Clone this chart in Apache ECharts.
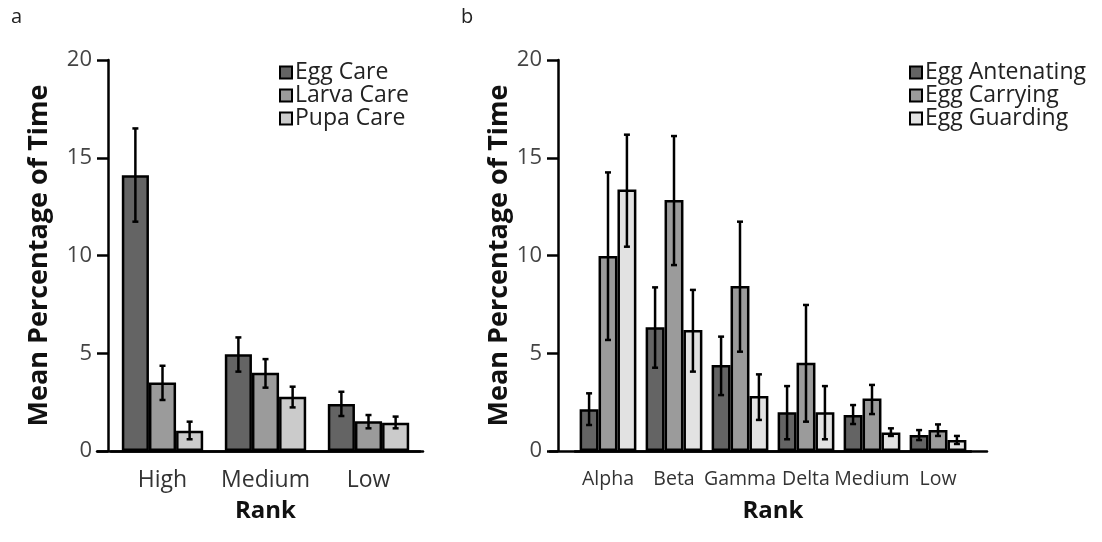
<!DOCTYPE html>
<html lang="en">
<head>
<meta charset="UTF-8">
<title>Brood care by rank</title>
<script src="https://cdn.jsdelivr.net/npm/echarts@6/dist/echarts.min.js"></script>
<style>
  html, body { margin: 0; padding: 0; background: #fff; }
  #chart { width: 1102px; height: 542px; }
</style>
</head>
<body>
<div id="chart"></div>
<script>
// panel a
var rankA = ['High', 'Medium', 'Low'];
var namesA = ['Egg Care', 'Larva Care', 'Pupa Care'];
var eggCare = [14.1, 4.95, 2.4];
var eggCareLo = [11.73, 4.06, 1.79];
var eggCareHi = [16.5, 5.81, 3.03];
var larvaCare = [3.5, 4.0, 1.52];
var larvaCareLo = [2.61, 3.24, 1.16];
var larvaCareHi = [4.36, 4.7, 1.84];
var pupaCare = [1.04, 2.78, 1.45];
var pupaCareLo = [0.6, 2.23, 1.16];
var pupaCareHi = [1.5, 3.29, 1.76];

// panel b
var rankB = ['Alpha', 'Beta', 'Gamma', 'Delta', 'Medium', 'Low'];
var namesB = ['Egg Antenating', 'Egg Carrying', 'Egg Guarding'];
var eggAntenating = [2.13, 6.33, 4.4, 1.98, 1.84, 0.82];
var eggAntenatingLo = [1.33, 4.26, 2.86, 0.6, 1.38, 0.56];
var eggAntenatingHi = [2.95, 8.37, 5.85, 3.32, 2.35, 1.07];
var eggCarrying = [9.97, 12.84, 8.44, 4.52, 2.69, 1.07];
var eggCarryingLo = [5.68, 9.51, 5.08, 1.5, 1.89, 0.77];
var eggCarryingHi = [14.25, 16.11, 11.73, 7.47, 3.38, 1.36];
var eggGuarding = [13.38, 6.19, 2.81, 1.98, 0.95, 0.56];
var eggGuardingLo = [10.45, 4.06, 1.59, 0.6, 0.77, 0.36];
var eggGuardingHi = [16.18, 8.24, 3.92, 3.32, 1.16, 0.77];

var yTicks = [0, 5, 10, 15, 20];

var FONT = 'Open Sans';
var colorsA = ['#646464', '#9b9b9b', '#cbcbcb'];
var colorsB = ['#646464', '#9b9b9b', '#e2e2e2'];

function errRender(gap, n, k) {
    return function (params, api) {
        var band = api.size([1, 0])[0];
        var bw = band * (1 - gap) / n;
        var dx = (k - (n - 1) / 2) * bw;
        var lo = api.coord([api.value(0), api.value(1)]);
        var hi = api.coord([api.value(0), api.value(2)]);
        var x = lo[0] + dx;
        var cap = 3;
        var st = { stroke: '#000', lineWidth: 2.5 };
        return {
            type: 'group',
            children: [
                { type: 'line', shape: { x1: x, y1: lo[1], x2: x, y2: hi[1] }, style: st },
                { type: 'line', shape: { x1: x - cap, y1: lo[1], x2: x + cap, y2: lo[1] }, style: st },
                { type: 'line', shape: { x1: x - cap, y1: hi[1], x2: x + cap, y2: hi[1] }, style: st }
            ]
        };
    };
}

function errData(lo, hi) {
    return lo.map(function (v, i) { return [i, v, hi[i]]; });
}

function barSeries(name, data, color, idx, gap) {
    return {
        name: name,
        type: 'bar',
        xAxisIndex: idx,
        yAxisIndex: idx,
        data: data,
        barGap: '0%',
        barCategoryGap: gap,
        itemStyle: { color: color, borderColor: '#000', borderWidth: 2.5 },
        silent: true
    };
}

function errSeries(lo, hi, idx, gap, k) {
    return {
        type: 'custom',
        xAxisIndex: idx,
        yAxisIndex: idx,
        renderItem: errRender(gap, 3, k),
        data: errData(lo, hi),
        encode: { x: 0, y: [1, 2] },
        z: 5,
        silent: true
    };
}

function xAxis(cats, idx, labelSize) {
    return {
        type: 'category',
        gridIndex: idx,
        data: cats,
        name: 'Rank',
        nameLocation: 'middle',
        nameGap: 48,
        nameTextStyle: { fontFamily: FONT, fontWeight: 'bold', fontSize: 24, color: '#111' },
        axisLine: { lineStyle: { color: '#000', width: 2.5 } },
        axisTick: { alignWithLabel: true, length: 11, lineStyle: { color: '#000', width: 2.5 } },
        axisLabel: { interval: 0, fontFamily: FONT, fontSize: labelSize, color: '#333', margin: 18 }
    };
}

// plain baseline that runs a bit past the bar area, as in the figure
function baseAxis(idx) {
    return {
        type: 'value',
        gridIndex: idx,
        axisLine: { show: true, onZero: false, lineStyle: { color: '#000', width: 2.5 } },
        axisTick: { show: false },
        axisLabel: { show: false },
        splitLine: { show: false }
    };
}

function yAxis(idx, offset, gap) {
    return {
        type: 'value',
        gridIndex: idx,
        min: yTicks[0],
        max: yTicks[yTicks.length - 1],
        interval: 5,
        offset: offset,
        name: 'Mean Percentage of Time',
        nameLocation: 'middle',
        nameGap: gap,
        nameTextStyle: { fontFamily: FONT, fontWeight: 'bold', fontSize: 27, color: '#111' },
        axisLine: { show: true, lineStyle: { color: '#000', width: 2.5 } },
        axisTick: { show: true, length: 11, lineStyle: { color: '#000', width: 2.5 } },
        axisLabel: { fontFamily: FONT, fontSize: 22, color: '#444', margin: 16 },
        splitLine: { show: false }
    };
}

function hiddenY(idx) {
    return { type: 'value', gridIndex: idx, show: false };
}

function legend(names, left) {
    return {
        data: names,
        left: left,
        top: 56,
        orient: 'vertical',
        itemWidth: 12,
        itemHeight: 12,
        itemGap: 0,
        icon: 'rect',
        selectedMode: false,
        textStyle: { fontFamily: FONT, fontSize: 23, lineHeight: 21, color: '#222', padding: [0, 0, 0, -2] }
    };
}

var chart = echarts.init(document.getElementById('chart'));
var gapA = 0.21, gapB = 0.14;

chart.setOption({
    animation: false,
    backgroundColor: '#fff',
    title: [
        { text: 'a', left: 6, top: 2, textStyle: { fontFamily: FONT, fontWeight: 'normal', fontSize: 20, color: '#222' } },
        { text: 'b', left: 456, top: 2, textStyle: { fontFamily: FONT, fontWeight: 'normal', fontSize: 20, color: '#222' } }
    ],
    legend: [legend(namesA, 274), legend(namesB, 904)],
    grid: [
        { left: 111, right: 682, top: 60, bottom: 91 },
        { left: 575, right: 131, top: 60, bottom: 91 },
        { left: 97, right: 679, top: 60, bottom: 91 },
        { left: 550, right: 115, top: 60, bottom: 91 }
    ],
    xAxis: [xAxis(rankA, 0, 23), xAxis(rankB, 1, 19.5), baseAxis(2), baseAxis(3)],
    yAxis: [yAxis(0, 3, 55), yAxis(1, 17, 45), hiddenY(2), hiddenY(3)],
    series: [
        barSeries(namesA[0], eggCare, colorsA[0], 0, gapA * 100 + '%'),
        barSeries(namesA[1], larvaCare, colorsA[1], 0, gapA * 100 + '%'),
        barSeries(namesA[2], pupaCare, colorsA[2], 0, gapA * 100 + '%'),
        errSeries(eggCareLo, eggCareHi, 0, gapA, 0),
        errSeries(larvaCareLo, larvaCareHi, 0, gapA, 1),
        errSeries(pupaCareLo, pupaCareHi, 0, gapA, 2),
        barSeries(namesB[0], eggAntenating, colorsB[0], 1, gapB * 100 + '%'),
        barSeries(namesB[1], eggCarrying, colorsB[1], 1, gapB * 100 + '%'),
        barSeries(namesB[2], eggGuarding, colorsB[2], 1, gapB * 100 + '%'),
        errSeries(eggAntenatingLo, eggAntenatingHi, 1, gapB, 0),
        errSeries(eggCarryingLo, eggCarryingHi, 1, gapB, 1),
        errSeries(eggGuardingLo, eggGuardingHi, 1, gapB, 2)
    ]
});
</script>
</body>
</html>
